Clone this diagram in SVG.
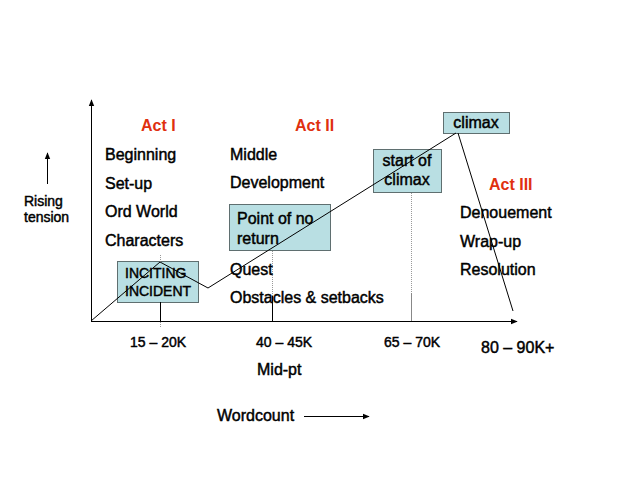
<svg xmlns="http://www.w3.org/2000/svg" width="640" height="480" viewBox="0 0 640 480">
<defs>
<marker id="ah" viewBox="0 0 10 10" refX="9" refY="5" markerWidth="7" markerHeight="7" orient="auto" markerUnits="userSpaceOnUse"><path d="M0,1 L10,5 L0,9 z" fill="#000"/></marker>
</defs>
<style>
text{font-family:"Liberation Sans",Arial,sans-serif;fill:#000;stroke:#000;stroke-width:0.45}
.t14{font-size:14px}
.t16{font-size:16px}
.act{font-size:16px;font-weight:bold;fill:#e0300f;stroke:none}
.box{fill:#b9dfe3;stroke:#5f6f70;stroke-width:1}
.ax{stroke:#000;stroke-width:1;fill:none}
.dot{stroke:#999;stroke-width:1;stroke-dasharray:1 1;fill:none}
.sol{stroke:#000;stroke-width:1;fill:none}
</style>
<rect width="640" height="480" fill="#fff"/>
<g id="boxes">
<rect id="box-inciting" class="box" x="117.5" y="261.5" width="81" height="41"/>
<rect id="box-ponr" class="box" x="229.5" y="204.5" width="101" height="46"/>
<rect id="box-startclimax" class="box" x="373.5" y="149.5" width="68" height="43"/>
<rect id="box-climax" class="box" x="443.5" y="112.5" width="66" height="21"/>
</g>
<g id="connectors">
<line class="ax" x1="91.5" y1="321.5" x2="91.5" y2="100" marker-end="url(#ah)"/>
<line class="ax" x1="91" y1="321.5" x2="517" y2="321.5" marker-end="url(#ah)"/>
<line class="ax" x1="47.5" y1="184" x2="47.5" y2="153" marker-end="url(#ah)"/>
<line class="ax" x1="304" y1="416.5" x2="369" y2="416.5" marker-end="url(#ah)"/>
<line class="dot" x1="160.5" y1="255" x2="160.5" y2="262"/>
<polyline class="sol" points="91,321 160,262 208,288 456,133"/>
<line class="sol" x1="458" y1="133" x2="513" y2="311"/>
<line class="sol" x1="160.5" y1="302" x2="160.5" y2="321"/>
<line class="dot" x1="160.5" y1="322" x2="160.5" y2="328"/>
<line class="dot" x1="272.5" y1="251" x2="272.5" y2="296"/>
<line class="sol" x1="272.5" y1="296" x2="272.5" y2="321"/>
<line class="dot" x1="411.5" y1="193" x2="411.5" y2="293"/>
<line stroke="#888" stroke-width="1" x1="411.5" y1="293" x2="411.5" y2="321"/>
</g>
<g id="act1">
<text class="act" x="141" y="131">Act I</text>
<text class="t16" x="105" y="160">Beginning</text>
<text class="t16" x="105" y="189">Set-up</text>
<text class="t16" x="105" y="217">Ord World</text>
<text class="t16" x="105" y="246">Characters</text>
</g>
<g id="act2">
<text class="act" x="295" y="131">Act II</text>
<text class="t16" x="230" y="160">Middle</text>
<text class="t16" x="230" y="188">Development</text>
<text class="t16" x="230" y="275">Quest</text>
<text class="t16" x="230" y="303">Obstacles &amp; setbacks</text>
</g>
<g id="act3">
<text class="act" x="489" y="190">Act III</text>
<text class="t16" x="460" y="218">Denouement</text>
<text class="t16" x="460" y="247">Wrap-up</text>
<text class="t16" x="460" y="275">Resolution</text>
</g>
<g id="inciting">
<text class="t14" x="125" y="278">INCITING</text>
<text class="t14" x="125" y="296">INCIDENT</text>
</g>
<g id="ponr">
<text class="t16" x="237" y="224">Point of no</text>
<text class="t16" x="237" y="244">return</text>
</g>
<g id="startclimax">
<text class="t16" x="407" y="166" text-anchor="middle">start of</text>
<text class="t16" x="407" y="185" text-anchor="middle">climax</text>
</g>
<g id="climax">
<text class="t16" x="476" y="128" text-anchor="middle">climax</text>
</g>
<g id="ylabel">
<text class="t14" x="24" y="206">Rising</text>
<text class="t14" x="24" y="222">tension</text>
</g>
<g id="xlabels">
<text class="t14" x="130" y="347">15 – 20K</text>
<text class="t14" x="256" y="347">40 – 45K</text>
<text class="t14" x="384" y="347">65 – 70K</text>
<text class="t16" x="481" y="353">80 – 90K+</text>
<text class="t16" x="257" y="375">Mid-pt</text>
<text class="t16" x="217" y="421">Wordcount</text>
</g>
</svg>
